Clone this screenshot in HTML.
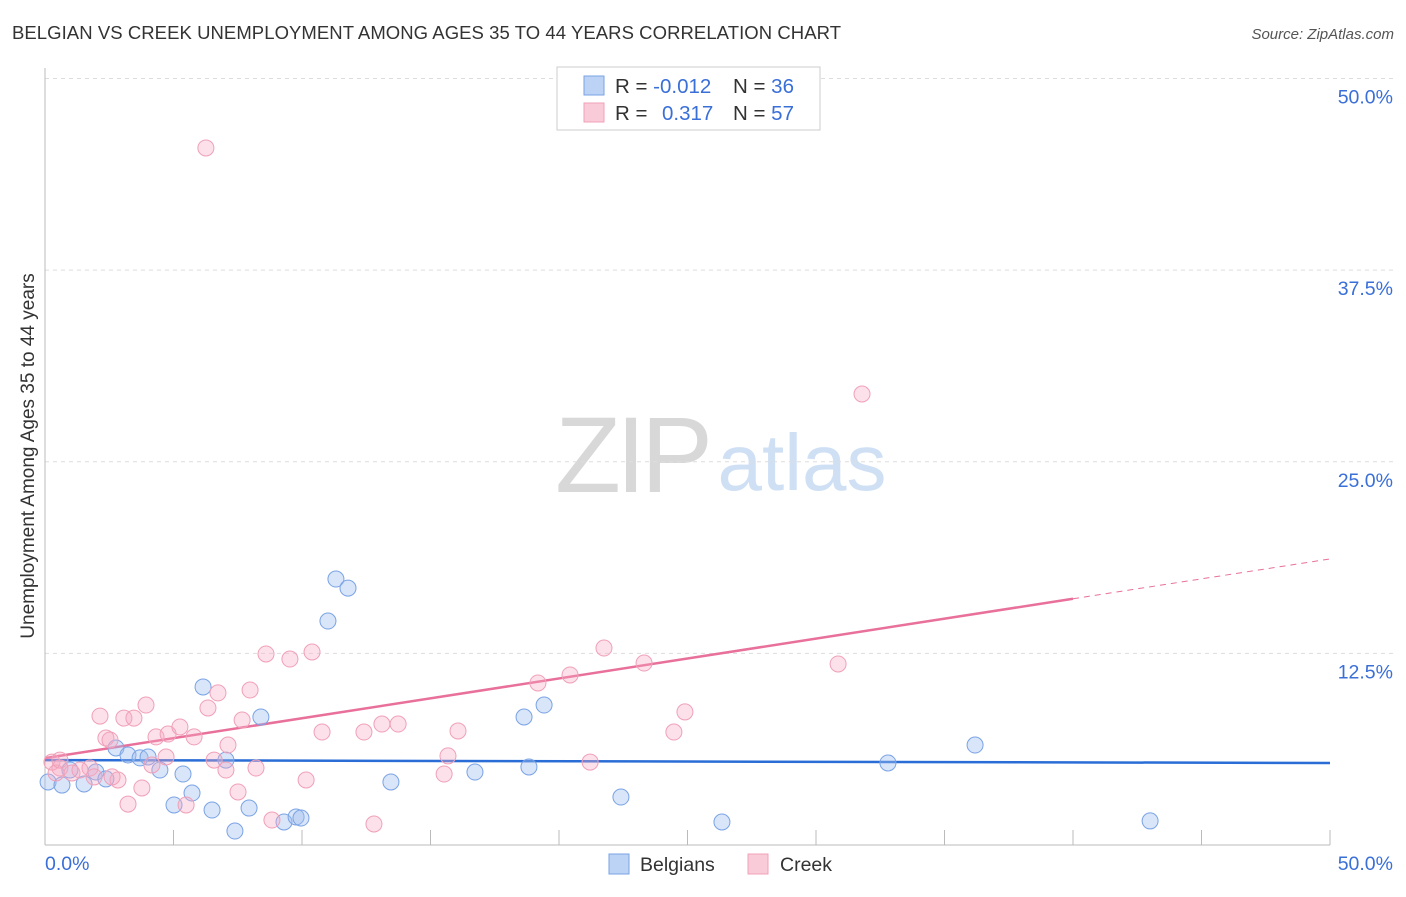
<!DOCTYPE html>
<html><head><meta charset="utf-8"><style>
body{margin:0;background:#fff;font-family:"Liberation Sans",sans-serif;}
svg text{font-family:"Liberation Sans",sans-serif;}
</style></head><body>
<svg id="chart" width="1406" height="892" xmlns="http://www.w3.org/2000/svg">
<text x="12" y="39" font-size="18.5" fill="#333" textLength="829">BELGIAN VS CREEK UNEMPLOYMENT AMONG AGES 35 TO 44 YEARS CORRELATION CHART</text>
<text x="1394" y="39" font-size="15" fill="#555" font-style="italic" text-anchor="end">Source: ZipAtlas.com</text>
<text x="34" y="456" font-size="19" fill="#333" text-anchor="middle" transform="rotate(-90 34 456)">Unemployment Among Ages 35 to 44 years</text>
<g>
<text x="634" y="492" font-size="108" fill="#d8d8d8" font-family="Liberation Serif" text-anchor="middle" textLength="158">ZIP</text>
<text x="802" y="490" font-size="80" fill="#cfe0f5" text-anchor="middle">atlas</text>
</g>
<g id="grid"></g>
<g id="axes"></g>
<g id="trends"></g>
<g id="points"></g>
<g>
<rect x="557" y="67" width="263" height="63" fill="#fff" stroke="#ccc"/>
<rect x="584" y="76" width="20" height="19" fill="#bcd3f5" stroke="#7aa3e5"/>
<rect x="584" y="103" width="20" height="19" fill="#f9cbd9" stroke="#f0a0b8"/>
<text x="615" y="93" font-size="20.5" fill="#333">R = <tspan fill="#3a6fd8">-0.012</tspan></text>
<text x="733" y="93" font-size="20.5" fill="#333">N = <tspan fill="#3a6fd8">36</tspan></text>
<text x="615" y="120" font-size="20.5" fill="#333">R = <tspan fill="#3a6fd8" x="662">0.317</tspan></text>
<text x="733" y="120" font-size="20.5" fill="#333">N = <tspan fill="#3a6fd8">57</tspan></text>
</g>
<g>
<rect x="609" y="854" width="20" height="20" fill="#bcd3f5" stroke="#7aa3e5"/>
<text x="640" y="871" font-size="19.5" fill="#333">Belgians</text>
<rect x="748" y="854" width="20" height="20" fill="#f9cbd9" stroke="#f0a0b8"/>
<text x="780" y="871" font-size="19.5" fill="#333">Creek</text>
</g>
</svg>
<script>
const yTicks=[12.5,25,37.5,50];
const yTickLabels=["12.5%","25.0%","37.5%","50.0%"];
const xTickLabels=["0.0%","50.0%"];
const belgX=[0.12,0.66,1.52,1.98,2.37,2.76,3.23,3.70,4.01,4.47,5.37,5.02,5.72,6.15,6.50,7.04,7.39,7.94,8.40,9.30,9.77,9.96,11.01,11.32,11.79,13.46,16.73,18.64,18.83,19.42,22.41,26.34,32.80,36.19,43.00,0.97];
const belgY=[4.11,3.91,3.98,4.76,4.31,6.33,5.87,5.68,5.74,4.89,4.63,2.61,3.39,10.31,2.28,5.54,0.91,2.41,8.35,1.50,1.83,1.76,14.61,17.35,16.76,4.11,4.76,8.35,5.09,9.13,3.13,1.50,5.35,6.52,1.57,4.89];
const creekX=[6.26,31.79,0.27,0.58,1.05,1.75,1.36,2.14,2.37,2.53,2.84,3.07,3.23,3.46,3.77,3.93,4.16,4.32,4.71,4.79,5.25,5.49,5.80,6.34,6.58,6.73,7.04,7.12,7.51,7.67,7.98,8.21,8.60,8.83,9.53,10.16,10.39,10.78,12.41,12.80,13.11,13.74,15.53,15.68,16.07,19.18,20.43,21.21,21.75,23.31,24.47,24.90,30.86,1.91,2.61,0.43,0.58];
const creekY=[45.47,29.42,5.41,5.02,4.70,5.02,4.89,8.41,6.98,6.85,4.24,8.28,2.67,8.28,3.72,9.13,5.22,7.05,5.74,7.24,7.70,2.61,7.05,8.94,5.54,9.92,4.89,6.52,3.46,8.15,10.11,5.02,12.46,1.63,12.13,4.24,12.59,7.37,7.37,1.37,7.89,7.89,4.63,5.81,7.44,10.57,11.09,5.41,12.85,11.87,7.37,8.68,11.81,4.44,4.44,4.70,5.54];
const belgTrend=[5.54,5.35];
const creekTrend=[5.67,18.66];
const creekSolidEnd=40;
const NS="http://www.w3.org/2000/svg";
const X=v=>45+v*25.7, Y=v=>845-v*15.33;
function mk(t,a,p){const e=document.createElementNS(NS,t);for(const k in a)e.setAttribute(k,a[k]);document.getElementById(p).appendChild(e);return e;}
yTicks.forEach((t,i)=>{
 const g=mk('line',{x1:45,x2:1393,y1:Y(t),y2:Y(t),stroke:'#ddd','stroke-dasharray':'4,4'},'grid');
 
 
 const l=mk('text',{x:1393,y:Y(t)+25,'font-size':19.5,fill:'#3a6fd8','text-anchor':'end'},'axes');l.textContent=yTickLabels[i];
 
 
});
let a=mk('line',{x1:45,x2:45,y1:68,y2:845,stroke:'#bbb'},'axes');


a=mk('line',{x1:45,x2:1330,y1:845,y2:845,stroke:'#bbb'},'axes');


for(let i=0;i<=10;i++){const t=mk('line',{x1:X(i*5),x2:X(i*5),y1:830,y2:845,stroke:'#bbb'},'axes');
 
 }
let xl=mk('text',{x:45,y:870,'font-size':19.5,fill:'#3a6fd8'},'axes');xl.textContent=xTickLabels[0];


xl=mk('text',{x:1393,y:870,'font-size':19.5,fill:'#3a6fd8','text-anchor':'end'},'axes');xl.textContent=xTickLabels[1];


belgX.forEach((x,i)=>{const c=mk('circle',{cx:X(x),cy:Y(belgY[i]),r:8,fill:'rgba(160,190,240,0.4)',stroke:'#7aa3e5','stroke-width':1},'points');
 
 });
creekX.forEach((x,i)=>{const c=mk('circle',{cx:X(x),cy:Y(creekY[i]),r:8,fill:'rgba(245,170,195,0.35)',stroke:'#f0a0b8','stroke-width':1},'points');
 
 });
const cy=x=>creekTrend[0]+(creekTrend[1]-creekTrend[0])*x/50;
let tl=mk('line',{x1:X(0),y1:Y(belgTrend[0]),x2:X(50),y2:Y(belgTrend[1]),stroke:'#2a6dd6','stroke-width':2.5},'trends');


tl=mk('line',{x1:X(0),y1:Y(cy(0)),x2:X(creekSolidEnd),y2:Y(cy(creekSolidEnd)),stroke:'#e8709a','stroke-width':2.5},'trends');


tl=mk('line',{x1:X(creekSolidEnd),y1:Y(cy(creekSolidEnd)),x2:X(50),y2:Y(cy(50)),stroke:'#e8709a','stroke-width':1,'stroke-dasharray':'6,5'},'trends');


</script>
</body></html>
